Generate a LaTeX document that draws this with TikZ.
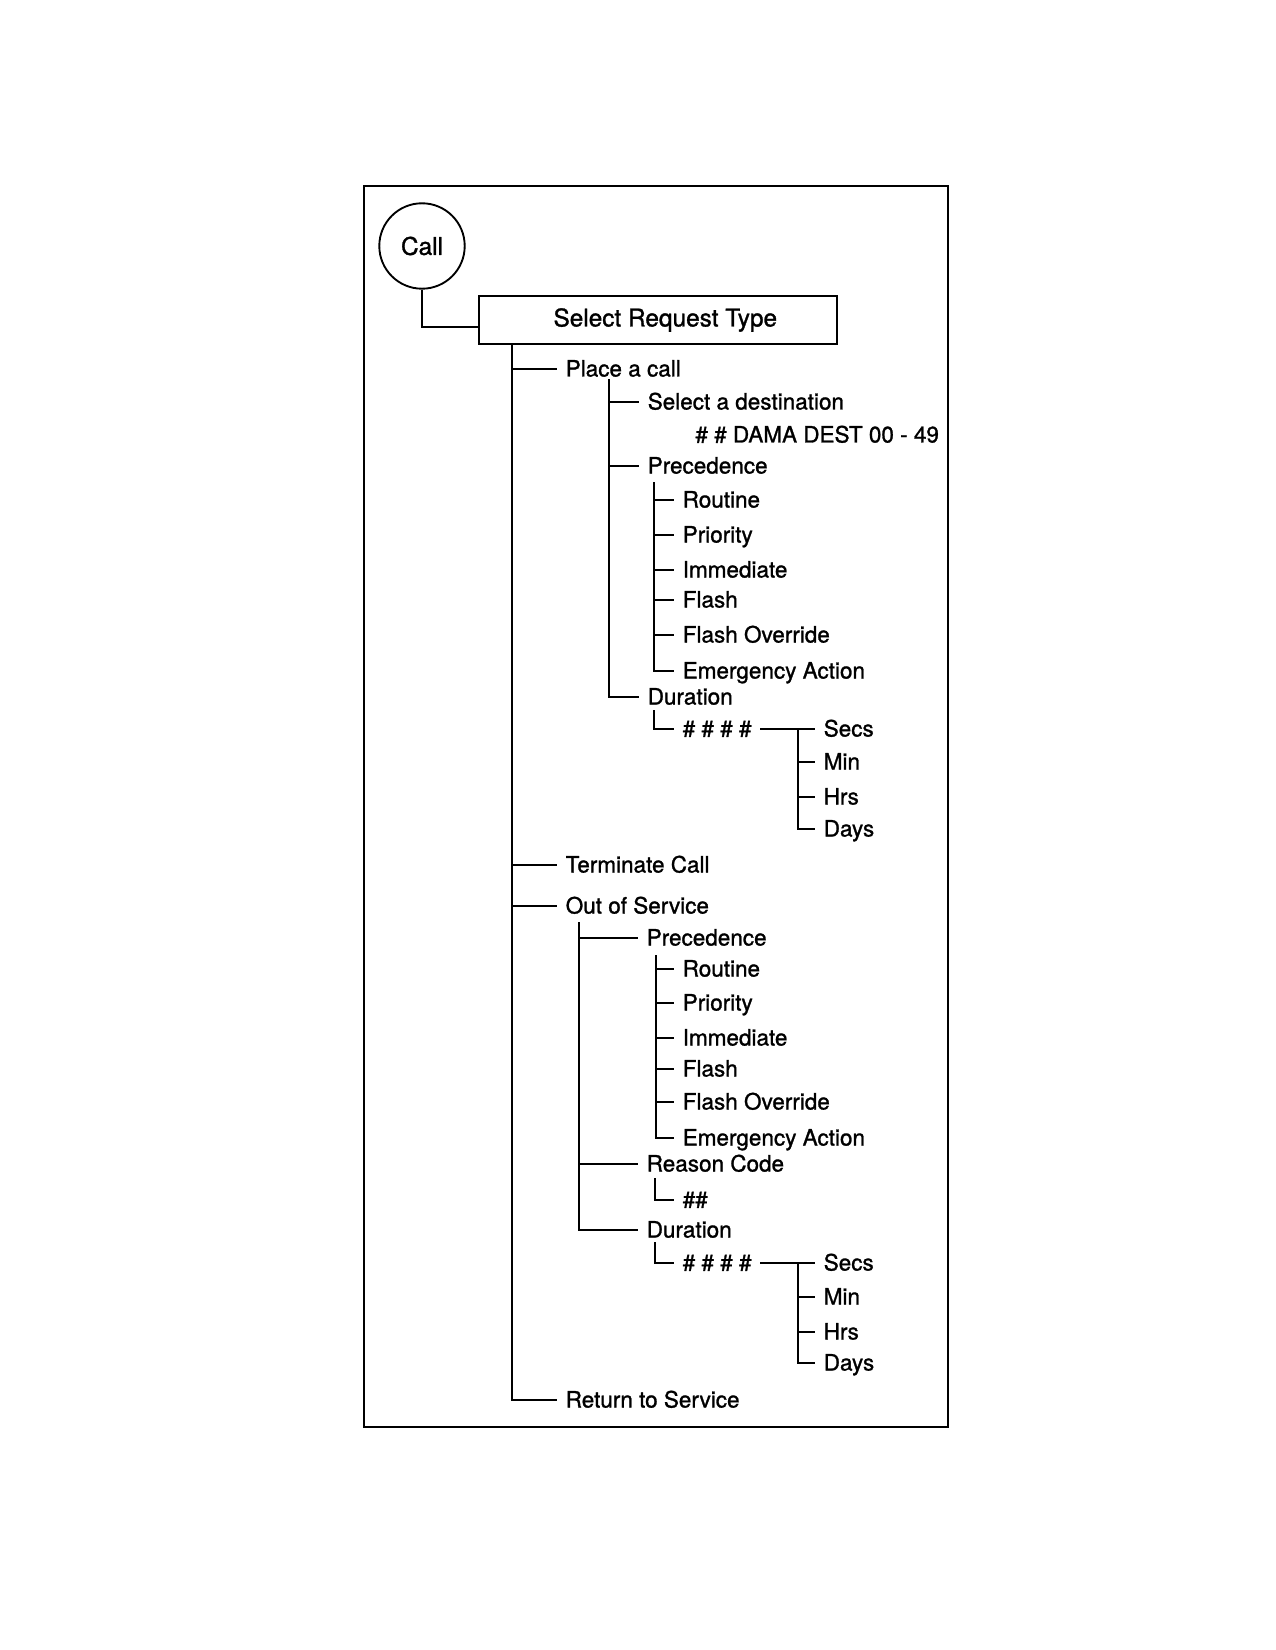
\documentclass[tikz,border=0pt]{standalone}
\usepackage{fontspec}
\setmainfont[FakeBold=1.2]{TeX Gyre Heros}

\begin{document}
\begin{tikzpicture}[
    x=0.48pt, y=-0.48pt,
    % Rahmen und Linien des Baums
    frame/.style={line width=1pt},
    branch/.style={line width=0.9pt},
    % Eintraege im Baum
    item/.style={anchor=west, inner xsep=4pt, inner ysep=0pt, text height=0.72em,
                 text depth=0pt, font=\fontsize{10.8}{13}\selectfont},
    % Kopf
    title/.style={font=\fontsize{11.7}{14}\selectfont}
]

\useasboundingbox (0,0) rectangle (1275,1650);
\draw[frame] (364,186) rectangle (948,1427);

% --- KOPF ---
\node[circle, draw, line width=0.9pt, minimum size=41pt, inner sep=0pt, title] (call) at (422,246) {Call};
\node[draw, line width=0.9pt, minimum width=172pt, minimum height=23pt, title] (srt) at (658,320) {\hspace*{7pt}Select Request Type};
\draw[branch] (call.south) |- ([yshift=-3.4pt]srt.west);

% --- ERSTE EBENE ---
\node[item] (place) at (557,369) {Place a call};
\node[item] (term) at (557,865) {Terminate Call};
\node[item] (oos) at (557,906) {Out of Service};
\node[item] (ret) at (557,1400) {Return to Service};
\coordinate (trunk) at (srt.south -| 512,0);
\draw[branch] (trunk) |- (ret.west);
\foreach \n in {place,term,oos}
    \draw[branch] (trunk |- \n.west) -- (\n.west);

% --- PLACE A CALL ---
\node[item] (sel) at (639,402) {Select a destination};
\node[item, inner xsep=0pt] (dest) at (695,435) {\# \# DAMA DEST 00 - 49};
\node[item] (prec1) at (639,466) {Precedence};
\node[item] (dur1) at (639,697) {Duration};
\coordinate (v1) at (609,379);
\draw[branch] (v1) |- (dur1.west);
\foreach \n in {sel,prec1}
    \draw[branch] (v1 |- \n.west) -- (\n.west);

\foreach \i/\txt/\y in {1/Routine/500, 2/Priority/535, 3/Immediate/570,
                        4/Flash/600, 5/Flash Override/635, 6/Emergency Action/671}
    \node[item] (pa\i) at (674,\y) {\txt};
\coordinate (w1) at (654,482);
\draw[branch] (w1) |- (pa6.west);
\foreach \i in {1,...,5}
    \draw[branch] (w1 |- pa\i.west) -- (pa\i.west);

\node[item] (hash1) at (674,729) {\# \# \# \#};
\coordinate (d1) at (654,710);
\draw[branch] (d1) |- (hash1.west);
\foreach \i/\txt/\y in {1/Secs/729, 2/Min/762, 3/Hrs/797, 4/Days/829}
    \node[item] (ua\i) at (815,\y) {\txt};
\draw[branch] (hash1.east) -- (ua1.west);
\coordinate (u1) at (798,729);
\draw[branch] (u1) |- (ua4.west);
\foreach \i in {2,3}
    \draw[branch] (u1 |- ua\i.west) -- (ua\i.west);

% --- OUT OF SERVICE ---
\node[item] (prec2) at (638,938) {Precedence};
\node[item] (reason) at (638,1164) {Reason Code};
\node[item] (dur2) at (638,1230) {Duration};
\coordinate (v2) at (579,922);
\draw[branch] (v2) |- (dur2.west);
\foreach \n in {prec2,reason}
    \draw[branch] (v2 |- \n.west) -- (\n.west);

\foreach \i/\txt/\y in {1/Routine/969, 2/Priority/1003, 3/Immediate/1038,
                        4/Flash/1069, 5/Flash Override/1102, 6/Emergency Action/1138}
    \node[item] (pb\i) at (674,\y) {\txt};
\coordinate (w2) at (656,955);
\draw[branch] (w2) |- (pb6.west);
\foreach \i in {1,...,5}
    \draw[branch] (w2 |- pb\i.west) -- (pb\i.west);

\node[item] (code) at (674,1200) {\#\#};
\coordinate (r2) at (655,1178);
\draw[branch] (r2) |- (code.west);

\node[item] (hash2) at (674,1263) {\# \# \# \#};
\coordinate (d2) at (655,1242);
\draw[branch] (d2) |- (hash2.west);
\foreach \i/\txt/\y in {1/Secs/1263, 2/Min/1297, 3/Hrs/1332, 4/Days/1363}
    \node[item] (ub\i) at (815,\y) {\txt};
\draw[branch] (hash2.east) -- (ub1.west);
\coordinate (u2) at (798,1263);
\draw[branch] (u2) |- (ub4.west);
\foreach \i in {2,3}
    \draw[branch] (u2 |- ub\i.west) -- (ub\i.west);

\end{tikzpicture}
\end{document}
